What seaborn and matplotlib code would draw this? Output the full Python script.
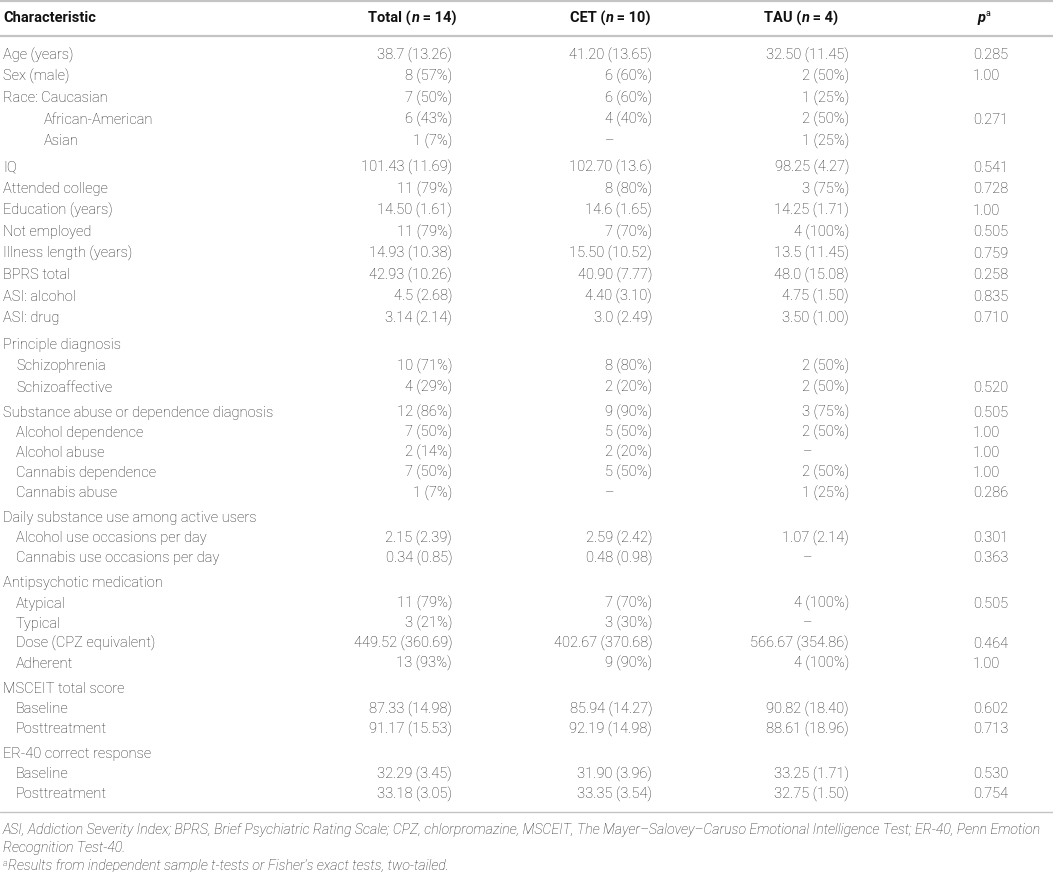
import numpy as np
import pandas as pd
import seaborn as sns
import matplotlib.pyplot as plt

# table contents
labels = ["Age (years)", "Sex (male)", "Race: Caucasian", "African-American", "Asian",
          "IQ", "Attended college", "Education (years)", "Not employed",
          "Illness length (years)", "BPRS total", "ASI: alcohol", "ASI: drug",
          "Principle diagnosis", "Schizophrenia", "Schizoaffective",
          "Substance abuse or dependence diagnosis", "Alcohol dependence", "Alcohol abuse",
          "Cannabis dependence", "Cannabis abuse",
          "Daily substance use among active users", "Alcohol use occasions per day",
          "Cannabis use occasions per day",
          "Antipsychotic medication", "Atypical", "Typical", "Dose (CPZ equivalent)", "Adherent",
          "MSCEIT total score", "Baseline", "Posttreatment",
          "ER-40 correct response", "Baseline", "Posttreatment"]
total = ["38.7 (13.26)", "8 (57%)", "7 (50%)", "6 (43%)", "1 (7%)",
         "101.43 (11.69)", "11 (79%)", "14.50 (1.61)", "11 (79%)",
         "14.93 (10.38)", "42.93 (10.26)", "4.5 (2.68)", "3.14 (2.14)",
         "", "10 (71%)", "4 (29%)",
         "12 (86%)", "7 (50%)", "2 (14%)", "7 (50%)", "1 (7%)",
         "", "2.15 (2.39)", "0.34 (0.85)",
         "", "11 (79%)", "3 (21%)", "449.52 (360.69)", "13 (93%)",
         "", "87.33 (14.98)", "91.17 (15.53)",
         "", "32.29 (3.45)", "33.18 (3.05)"]
cet = ["41.20 (13.65)", "6 (60%)", "6 (60%)", "4 (40%)", "–",
       "102.70 (13.6)", "8 (80%)", "14.6 (1.65)", "7 (70%)",
       "15.50 (10.52)", "40.90 (7.77)", "4.40 (3.10)", "3.0 (2.49)",
       "", "8 (80%)", "2 (20%)",
       "9 (90%)", "5 (50%)", "2 (20%)", "5 (50%)", "–",
       "", "2.59 (2.42)", "0.48 (0.98)",
       "", "7 (70%)", "3 (30%)", "402.67 (370.68)", "9 (90%)",
       "", "85.94 (14.27)", "92.19 (14.98)",
       "", "31.90 (3.96)", "33.35 (3.54)"]
tau = ["32.50 (11.45)", "2 (50%)", "1 (25%)", "2 (50%)", "1 (25%)",
       "98.25 (4.27)", "3 (75%)", "14.25 (1.71)", "4 (100%)",
       "13.5 (11.45)", "48.0 (15.08)", "4.75 (1.50)", "3.50 (1.00)",
       "", "2 (50%)", "2 (50%)",
       "3 (75%)", "2 (50%)", "–", "2 (50%)", "1 (25%)",
       "", "1.07 (2.14)", "–",
       "", "4 (100%)", "–", "566.67 (354.86)", "4 (100%)",
       "", "90.82 (18.40)", "88.61 (18.96)",
       "", "33.25 (1.71)", "32.75 (1.50)"]
pvals = ["0.285", "1.00", "", "0.271", "",
         "0.541", "0.728", "1.00", "0.505", "0.759", "0.258", "0.835", "0.710",
         "", "", "0.520",
         "0.505", "1.00", "1.00", "1.00", "0.286",
         "", "0.301", "0.363",
         "", "0.505", "", "0.464", "1.00",
         "", "0.602", "0.713",
         "", "0.530", "0.754"]

# layout: indent level per row and rows that open a new block
indent = [0, 0, 0, 2, 2, 0, 0, 0, 0, 0, 0, 0, 0, 0, 1, 1, 0, 1, 1, 1, 1,
          0, 1, 1, 0, 1, 1, 1, 1, 0, 1, 1, 0, 1, 1]
new_block = [5, 13, 16, 21, 24, 29, 32]

df = pd.DataFrame({"label": labels, "total": total, "cet": cet, "tau": tau, "p": pvals})

sns.set_theme(style="white")
plt.rcParams["font.family"] = ["Roboto", "DejaVu Sans"]

W, H = 1053, 872
fig = plt.figure(figsize=(W / 100, H / 100), dpi=100)
ax = fig.add_axes([0, 0, 1, 1])
ax.set_xlim(0, W)
ax.set_ylim(H, 0)
ax.axis("off")
renderer = fig.canvas.get_renderer()

body = dict(fontsize=10.5, fontweight="light", color="#262626")
bold = dict(fontsize=10.5, fontweight="bold", color="#111111")
note = dict(fontsize=10.2, fontstyle="italic", fontweight="light", color="#262626")


def runs(x, y, parts, ha="left"):
    # draw text pieces one after the other (for mixed bold / italic / superscript)
    texts = []
    for s, kw, dy in parts:
        texts.append((ax.text(0, y + dy, s, va="center", **kw)))
    widths = [t.get_window_extent(renderer).width for t in texts]
    start = {"left": x, "center": x - sum(widths) / 2, "right": x - sum(widths)}[ha]
    for t, w in zip(texts, widths):
        t.set_x(start)
        start += w


# row positions
ys = []
y = 55
for i in range(len(df)):
    if i > 0:
        y += 21.5 if i <= 15 else 20.1
        if i in new_block:
            y += 5
    ys.append(y)

# rules
line_c = "#c4c4c4"
ax.axhline(1.5, color=line_c, lw=1.6)
ax.axhline(36, color=line_c, lw=1.6)
ax.axhline(812, color=line_c, lw=1.0)

# header
hy = 18
ax.text(3, hy, "Characteristic", va="center", **bold)
bold_it = dict(bold, fontstyle="italic")
for cx, name, n in [(412, "Total", "14"), (610, "CET", "10"), (801, "TAU", "4")]:
    runs(cx, hy, [(name + " (", bold, 0), ("n", bold_it, 0), (" = " + n + ")", bold, 0)], ha="center")
runs(984, hy, [("p", bold_it, 0), ("a", dict(bold, fontsize=6.5, fontweight="normal"), -4)], ha="center")

# body
label_x = {0: 3, 1: 16, 2: 44}
col_right = {"total": 452, "cet": 652, "tau": 849}
dash_x = {"total": 412, "cet": 610, "tau": 808}
for i, row in df.iterrows():
    yy = ys[i]
    ax.text(label_x[indent[i]], yy, row["label"], va="center", **body)
    for col in ["total", "cet", "tau"]:
        v = row[col]
        if v == "–":
            ax.text(dash_x[col], yy, v, ha="center", va="center", **body)
        elif v:
            ax.text(col_right[col], yy, v, ha="right", va="center", **body)
    if row["p"]:
        ax.text(973, yy, row["p"], ha="left", va="center", **body)

# footnotes
ax.text(3, 830, "ASI, Addiction Severity Index; BPRS, Brief Psychiatric Rating Scale; CPZ, chlorpromazine, "
        "MSCEIT, The Mayer–Salovey–Caruso Emotional Intelligence Test; ER-40, Penn Emotion", va="center", **note)
ax.text(3, 848, "Recognition Test-40.", va="center", **note)
runs(3, 866, [("a", dict(note, fontsize=6.5), -3),
              ("Results from independent sample t-tests or Fisher’s exact tests, two-tailed.", note, 0)])

fig.savefig("out.png", dpi=100)
